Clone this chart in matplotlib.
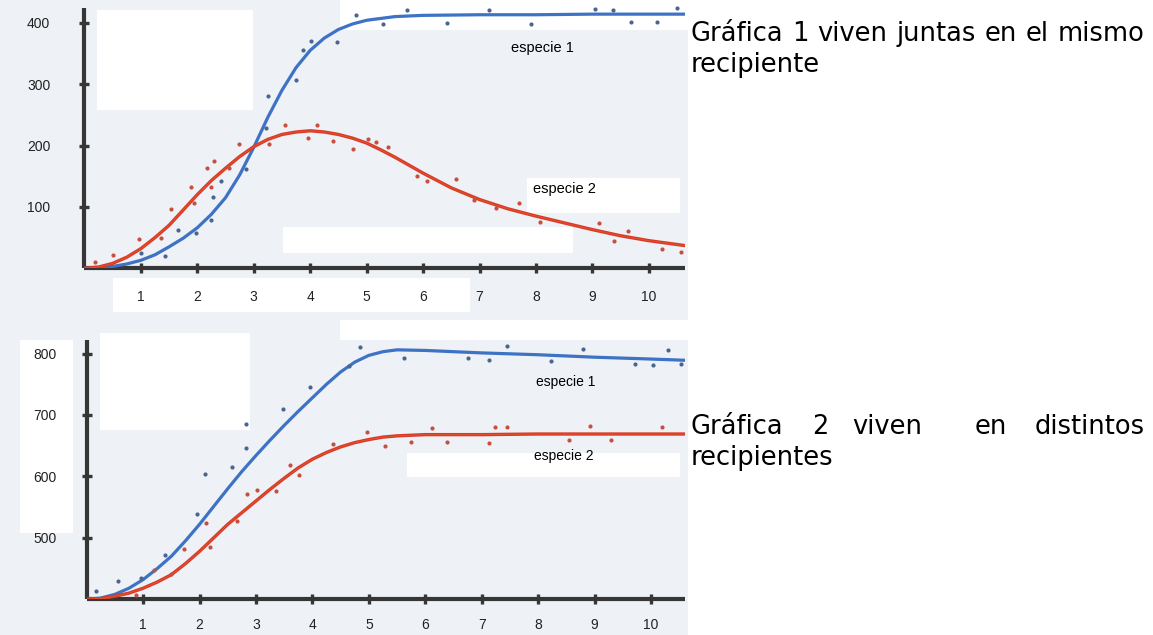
import matplotlib
matplotlib.use("Agg")
import matplotlib.pyplot as plt
from matplotlib.patches import Rectangle

W, H = 1153, 635

# -------- Grafica 1: viven juntas --------
g1_sp1_x = [0, 0.25, 0.5, 0.75, 1, 1.25, 1.5, 1.75, 2, 2.25, 2.5, 2.75, 3, 3.25, 3.5, 3.75, 4, 4.25,
            4.5, 4.75, 5, 5.5, 6, 7, 8, 9, 10, 10.64]
g1_sp1_y = [0, 1, 3, 7, 13, 22, 35, 49, 66, 88, 115, 152, 197, 246, 290, 327, 355, 375,
            389, 398, 404, 410, 412, 413, 413, 414, 414, 414]
g1_sp2_x = [0, 0.25, 0.5, 0.75, 1, 1.25, 1.5, 1.75, 2, 2.25, 2.5, 2.75, 3, 3.25, 3.5, 3.75, 4, 4.25,
            4.5, 4.75, 5, 5.25, 5.5, 5.75, 6, 6.5, 7, 7.5, 8, 8.5, 9, 9.5, 10, 10.64]
g1_sp2_y = [0, 2, 8, 18, 32, 50, 70, 95, 120, 143, 163, 182, 198, 210, 218, 222, 224, 222,
            218, 212, 204, 193, 181, 168, 155, 131, 112, 97, 85, 74, 63, 53, 45, 37]

g1_dots1_x = [1.0, 1.42, 1.65, 1.98, 2.24, 2.27, 2.42, 2.87, 3.22, 3.26, 3.75, 3.88, 4.02, 4.48,
              4.81, 5.29, 5.72, 6.42, 7.17, 7.91, 9.04, 9.36, 9.68, 10.14, 10.50]
g1_dots1_y = [25, 20, 62, 57, 79, 116, 143, 162, 228, 280, 307, 356, 370, 369,
              413, 398, 421, 400, 420, 398, 423, 421, 402, 402, 424]
g1_dots2_x = [0.18, 0.51, 0.97, 1.36, 1.54, 1.89, 1.95, 2.17, 2.24, 2.30, 2.56, 2.74, 3.27, 3.55,
              3.97, 4.12, 4.41, 4.76, 5.03, 5.17, 5.38, 5.89, 6.07, 6.58, 6.90, 7.29, 7.70, 8.07,
              9.12, 9.38, 9.63, 10.23, 10.57]
g1_dots2_y = [10, 21, 47, 49, 97, 133, 106, 164, 133, 174, 164, 203, 202, 233,
              213, 234, 207, 195, 211, 205, 197, 151, 143, 146, 111, 98, 107, 75,
              74, 44, 61, 31, 26]

# -------- Grafica 2: viven en distintos recipientes --------
g2_x = [0, 0.25, 0.5, 0.75, 1, 1.25, 1.5, 1.75, 2, 2.25, 2.5, 2.75, 3, 3.25, 3.5, 3.75, 4, 4.25,
        4.5, 4.75, 5, 5.25, 5.5, 6, 7, 8, 9, 10, 10.6]
g2_sp1_y = [400, 402, 408, 418, 432, 450, 470, 495, 522, 551, 580, 608, 634, 659, 683, 706, 728, 750,
            770, 786, 797, 803, 806, 805, 801, 798, 794, 791, 789]
g2_sp2_y = [400, 401, 405, 410, 418, 428, 440, 458, 478, 500, 522, 541, 560, 579, 597, 614, 628, 639,
            648, 655, 660, 664, 666, 668, 668, 669, 669, 669, 669]

g2_dots1_x = [0.16, 0.55, 0.97, 1.38, 1.95, 2.09, 2.58, 2.83, 2.83, 3.48, 3.95, 4.65, 4.85, 5.63,
              6.76, 7.12, 7.45, 8.23, 8.80, 9.72, 10.04, 10.30, 10.53]
g2_dots1_y = [413, 429, 434, 472, 539, 604, 615, 646, 686, 710, 746, 780, 811, 792,
              792, 790, 813, 788, 808, 783, 782, 805, 783]
g2_dots2_x = [0.87, 1.19, 1.50, 1.72, 2.11, 2.18, 2.67, 2.85, 3.01, 3.36, 3.61, 3.77, 4.37, 4.97,
              5.29, 5.75, 6.12, 6.39, 7.13, 7.24, 7.45, 8.55, 8.92, 9.29, 10.19]
g2_dots2_y = [407, 447, 441, 482, 524, 485, 527, 571, 578, 576, 618, 602, 653, 672,
              650, 656, 679, 656, 655, 681, 681, 659, 682, 659, 681]

x_ticks = list(range(1, 11))
g1_yticks = [100, 200, 300, 400]
g2_yticks = [500, 600, 700, 800]

BLUE = "#3d72c4"
RED = "#d93a28"
RED_CORE = "#f0842c"
BLUE_DOT = "#4a6690"
RED_DOT = "#c65040"
AXIS = "#363636"

fig = plt.figure(figsize=(W / 100, H / 100), dpi=100)
fig.patch.set_facecolor("white")


def px_rect(x0, y0, x1, y1, color):
    fig.patches.append(Rectangle((x0 / W, 1 - y1 / H), (x1 - x0) / W, (y1 - y0) / H,
                                 transform=fig.transFigure, facecolor=color,
                                 edgecolor="none", zorder=-5))


# scanned background, very light bluish grey with white patches
px_rect(0, 0, 688, 635, "#eef1f6")
for r in [(97, 10, 253, 110), (283, 227, 573, 253), (113, 278, 470, 312), (527, 178, 680, 213),
          (340, 0, 688, 30), (100, 333, 250, 430), (20, 340, 73, 533), (407, 453, 680, 477),
          (340, 320, 688, 340)]:
    px_rect(*r, "white")


def make_axes(left, top, right, bottom):
    ax = fig.add_axes([left / W, 1 - bottom / H, (right - left) / W, (bottom - top) / H])
    ax.set_facecolor("none")
    ax.set_zorder(2)
    for s in ["top", "right"]:
        ax.spines[s].set_visible(False)
    for s in ["left", "bottom"]:
        ax.spines[s].set_linewidth(3)
        ax.spines[s].set_color(AXIS)
        ax.spines[s].set_capstyle("butt")
    ax.tick_params(direction="inout", length=7, width=2.4, color=AXIS,
                   labelsize=10, labelcolor="#222222")
    return ax


def draw_species(ax, x1, y1, x2, y2):
    ax.plot(x1, y1, color=BLUE, lw=2.3, solid_joinstyle="round", solid_capstyle="round", zorder=3)
    ax.plot(x2, y2, color=RED, lw=2.4, solid_joinstyle="round", solid_capstyle="round", zorder=3)
    ax.plot(x2, y2, color=RED_CORE, lw=0.6, alpha=0.35, solid_joinstyle="round", zorder=3)


# -------- Grafica 1 --------
ax1 = make_axes(84.4, 8, 685, 268.3)
ax1.set_xlim(0, 10.64)
ax1.set_ylim(0, 424)
draw_species(ax1, g1_sp1_x, g1_sp1_y, g1_sp2_x, g1_sp2_y)
ax1.scatter(g1_dots1_x, g1_dots1_y, s=9, color=BLUE_DOT, lw=0, zorder=4, clip_on=False)
ax1.scatter(g1_dots2_x, g1_dots2_y, s=9, color=RED_DOT, lw=0, zorder=4, clip_on=False)
ax1.set_xticks(x_ticks)
ax1.set_yticks(g1_yticks)
ax1.tick_params(axis="x", pad=12)
ax1.tick_params(axis="y", pad=21)
ax1.text(8.12, 359, "especie 1", fontsize=10.5, family="Liberation Sans", ha="center", va="center")
ax1.text(8.51, 129, "especie 2", fontsize=10.5, family="Liberation Sans", ha="center", va="center")

# -------- Grafica 2 --------
ax2 = make_axes(86.6, 340, 685, 599.3)
ax2.set_xlim(0, 10.6)
ax2.set_ylim(400, 822)
draw_species(ax2, g2_x, g2_sp1_y, g2_x, g2_sp2_y)
ax2.scatter(g2_dots1_x, g2_dots1_y, s=9, color=BLUE_DOT, lw=0, zorder=4, clip_on=False)
ax2.scatter(g2_dots2_x, g2_dots2_y, s=9, color=RED_DOT, lw=0, zorder=4, clip_on=False)
ax2.set_xticks(x_ticks)
ax2.set_yticks(g2_yticks)
ax2.tick_params(axis="x", pad=10)
ax2.tick_params(axis="y", pad=18)
ax2.text(8.49, 753, "especie 1", fontsize=10, family="Liberation Sans", ha="center", va="center")
ax2.text(8.46, 634, "especie 2", fontsize=10, family="Liberation Sans", ha="center", va="center")

for ax in (ax1, ax2):
    for lab in ax.get_xticklabels() + ax.get_yticklabels():
        lab.set_family("Liberation Sans")

# -------- Side text --------
TXT = dict(fontsize=18.5, family="DejaVu Sans", va="baseline", color="black")
renderer = fig.canvas.get_renderer()


def justify(words, x0, x1, y):
    texts = [fig.text(0, 1 - y / H, w, **TXT) for w in words]
    widths = [t.get_window_extent(renderer).width for t in texts]
    gap = ((x1 - x0) - sum(widths)) / (len(words) - 1)
    x = x0
    for t, wd in zip(texts, widths):
        t.set_x(x / W)
        x += wd + gap


justify("Gráfica 1 viven juntas en el mismo".split(), 691, 1144, 41)
fig.text(691 / W, 1 - 72 / H, "recipiente", **TXT)

for word, xpos in zip(["Gráfica", "2", "viven", "en", "distintos"], [691, 812, 852, 975, 1035]):
    fig.text(xpos / W, 1 - 434 / H, word, **TXT)
fig.text(691 / W, 1 - 465 / H, "recipientes", **TXT)

plt.savefig("out.png", dpi=100)
